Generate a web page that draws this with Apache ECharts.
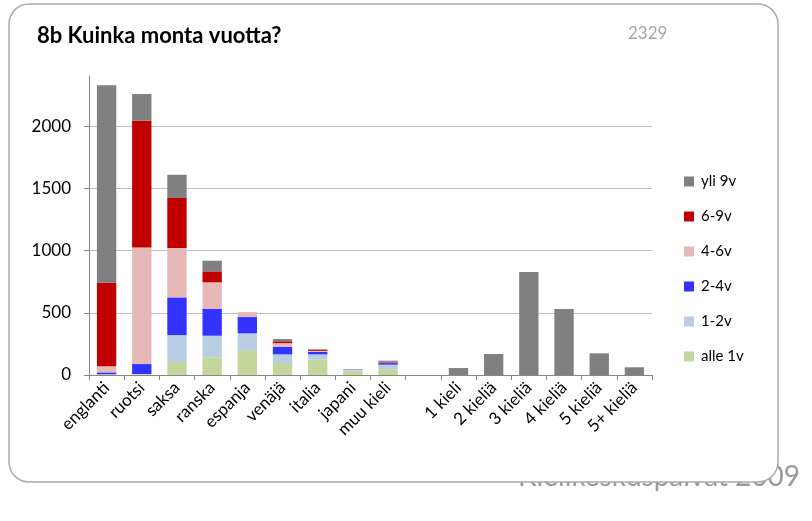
<!DOCTYPE html>
<html>
<head>
<meta charset="utf-8">
<script src="https://cdn.jsdelivr.net/npm/echarts@6/dist/echarts.min.js"></script>
<style>
html,body{margin:0;padding:0;background:#fff;}
#main{width:812px;height:521px;}
</style>
</head>
<body>
<div id="main"></div>
<script>
// kategoriat: kielet, tyhjä väli, kielten lukumäärä
const categories = ['englanti','ruotsi','saksa','ranska','espanja','venäjä','italia','japani','muu kieli','','1 kieli','2 kieliä','3 kieliä','4 kieliä','5 kieliä','5+ kieliä'];
const seriesNames = ['alle 1v','1-2v','2-4v','4-6v','6-9v','yli 9v'];
const alle1v = [3, 3, 104, 142, 200, 96, 123, 35, 46];
const v1_2 = [3, 5, 217, 174, 135, 70, 43, 8, 37];
const v2_4 = [15, 80, 303, 217, 131, 60, 20, 3, 13];
const v4_6 = [50, 938, 397, 212, 33, 30, 8, 1, 4];
const v6_9 = [670, 1018, 402, 88, 2, 15, 10, 0, 7];
const yli9 = [1588, 215, 187, 86, 0, 18, 2, 1, 8];
const kieliaLkm = [56, 169, 828, 530, 174, 62];
const yTicks = [0, 500, 1000, 1500, 2000];

const colors = ['#c3d69b','#b9cde5','#3333ff','#e6b9b8','#c00000','#808080'];
const font = 'Lato';

let myChart = echarts.init(document.getElementById('main'));

//kielikohtaiset arvot + tyhjät loppuun
function pad(arr){
	let out = arr.slice();
	while(out.length < categories.length) out.push('-');
	return out;
}
let kieliaData = [];
for(let i=0;i<categories.length - kieliaLkm.length;i++) kieliaData.push('-');
kieliaData = kieliaData.concat(kieliaLkm);

const lists = [alle1v, v1_2, v2_4, v4_6, v6_9, yli9];
let series = lists.map((arr,i) => ({
	name: seriesNames[i],
	type: 'bar',
	stack: 'kaikki',
	barWidth: '55%',
	itemStyle: {color: colors[i]},
	data: pad(arr)
}));
series.push({
	name: 'kieliä',
	type: 'bar',
	stack: 'kaikki',
	barWidth: '55%',
	itemStyle: {color: '#808080'},
	data: kieliaData
});

let total = 0;
lists.forEach(arr => { total += arr[0]; });

let option = {
	animation: false,
	title: [
		{
			text: '8b Kuinka monta vuotta?',
			left: 37, top: 25, padding: 0,
			textStyle: {fontFamily: font, fontSize: 22, fontWeight: 'bold', color: '#000'}
		},
		{
			text: String(total),
			left: 628, top: 25, padding: 0,
			textStyle: {fontFamily: font, fontSize: 17, fontWeight: 'normal', color: '#a6a6a6'}
		}
	],
	legend: {
		orient: 'vertical',
		left: 684,
		top: 174,
		padding: 0,
		itemWidth: 10,
		itemHeight: 10,
		itemGap: 20,
		icon: 'rect',
		data: seriesNames.slice().reverse(),
		textStyle: {fontFamily: font, fontSize: 15, color: '#000', lineHeight: 15, padding: [0,0,0,2]}
	},
	grid: {
		left: 89, right: 160, top: 76, bottom: 146,
		containLabel: false
	},
	xAxis: {
		type: 'category',
		data: categories,
		axisLine: {lineStyle: {color: '#868686', width: 1}},
		axisTick: {show: true, length: 5, lineStyle: {color: '#868686'}},
		axisLabel: {
			interval: 0,
			rotate: 45,
			margin: 10,
			fontFamily: font,
			fontSize: 17,
			color: '#000'
		}
	},
	yAxis: {
		type: 'value',
		min: 0,
		max: 2404,
		interval: 500,
		axisLine: {show: true, lineStyle: {color: '#868686', width: 1}},
		axisTick: {show: true, length: 5, lineStyle: {color: '#868686'}},
		axisLabel: {
			showMaxLabel: false,
			margin: 18,
			fontFamily: font,
			fontSize: 17,
			color: '#000',
			formatter: function(v){ return yTicks.indexOf(v) >= 0 ? String(v) : ''; }
		},
		splitLine: {
			show: true,
			showMaxLine: false,
			lineStyle: {color: '#c0c0c0', width: 1}
		}
	},
	graphic: [
		{
			type: 'text',
			z: -10,
			left: 518,
			top: 463,
			style: {
				text: 'Kielikeskuspäivät 2009',
				fontFamily: font,
				fontSize: 28,
				fill: '#999999'
			}
		},
		{
			type: 'rect',
			z: -5,
			shape: {x: 9, y: 4, width: 769, height: 478, r: 20},
			style: {fill: '#fff', stroke: '#aaaaaa', lineWidth: 1.5}
		}
	],
	series: series
};

myChart.setOption(option);
</script>
</body>
</html>
